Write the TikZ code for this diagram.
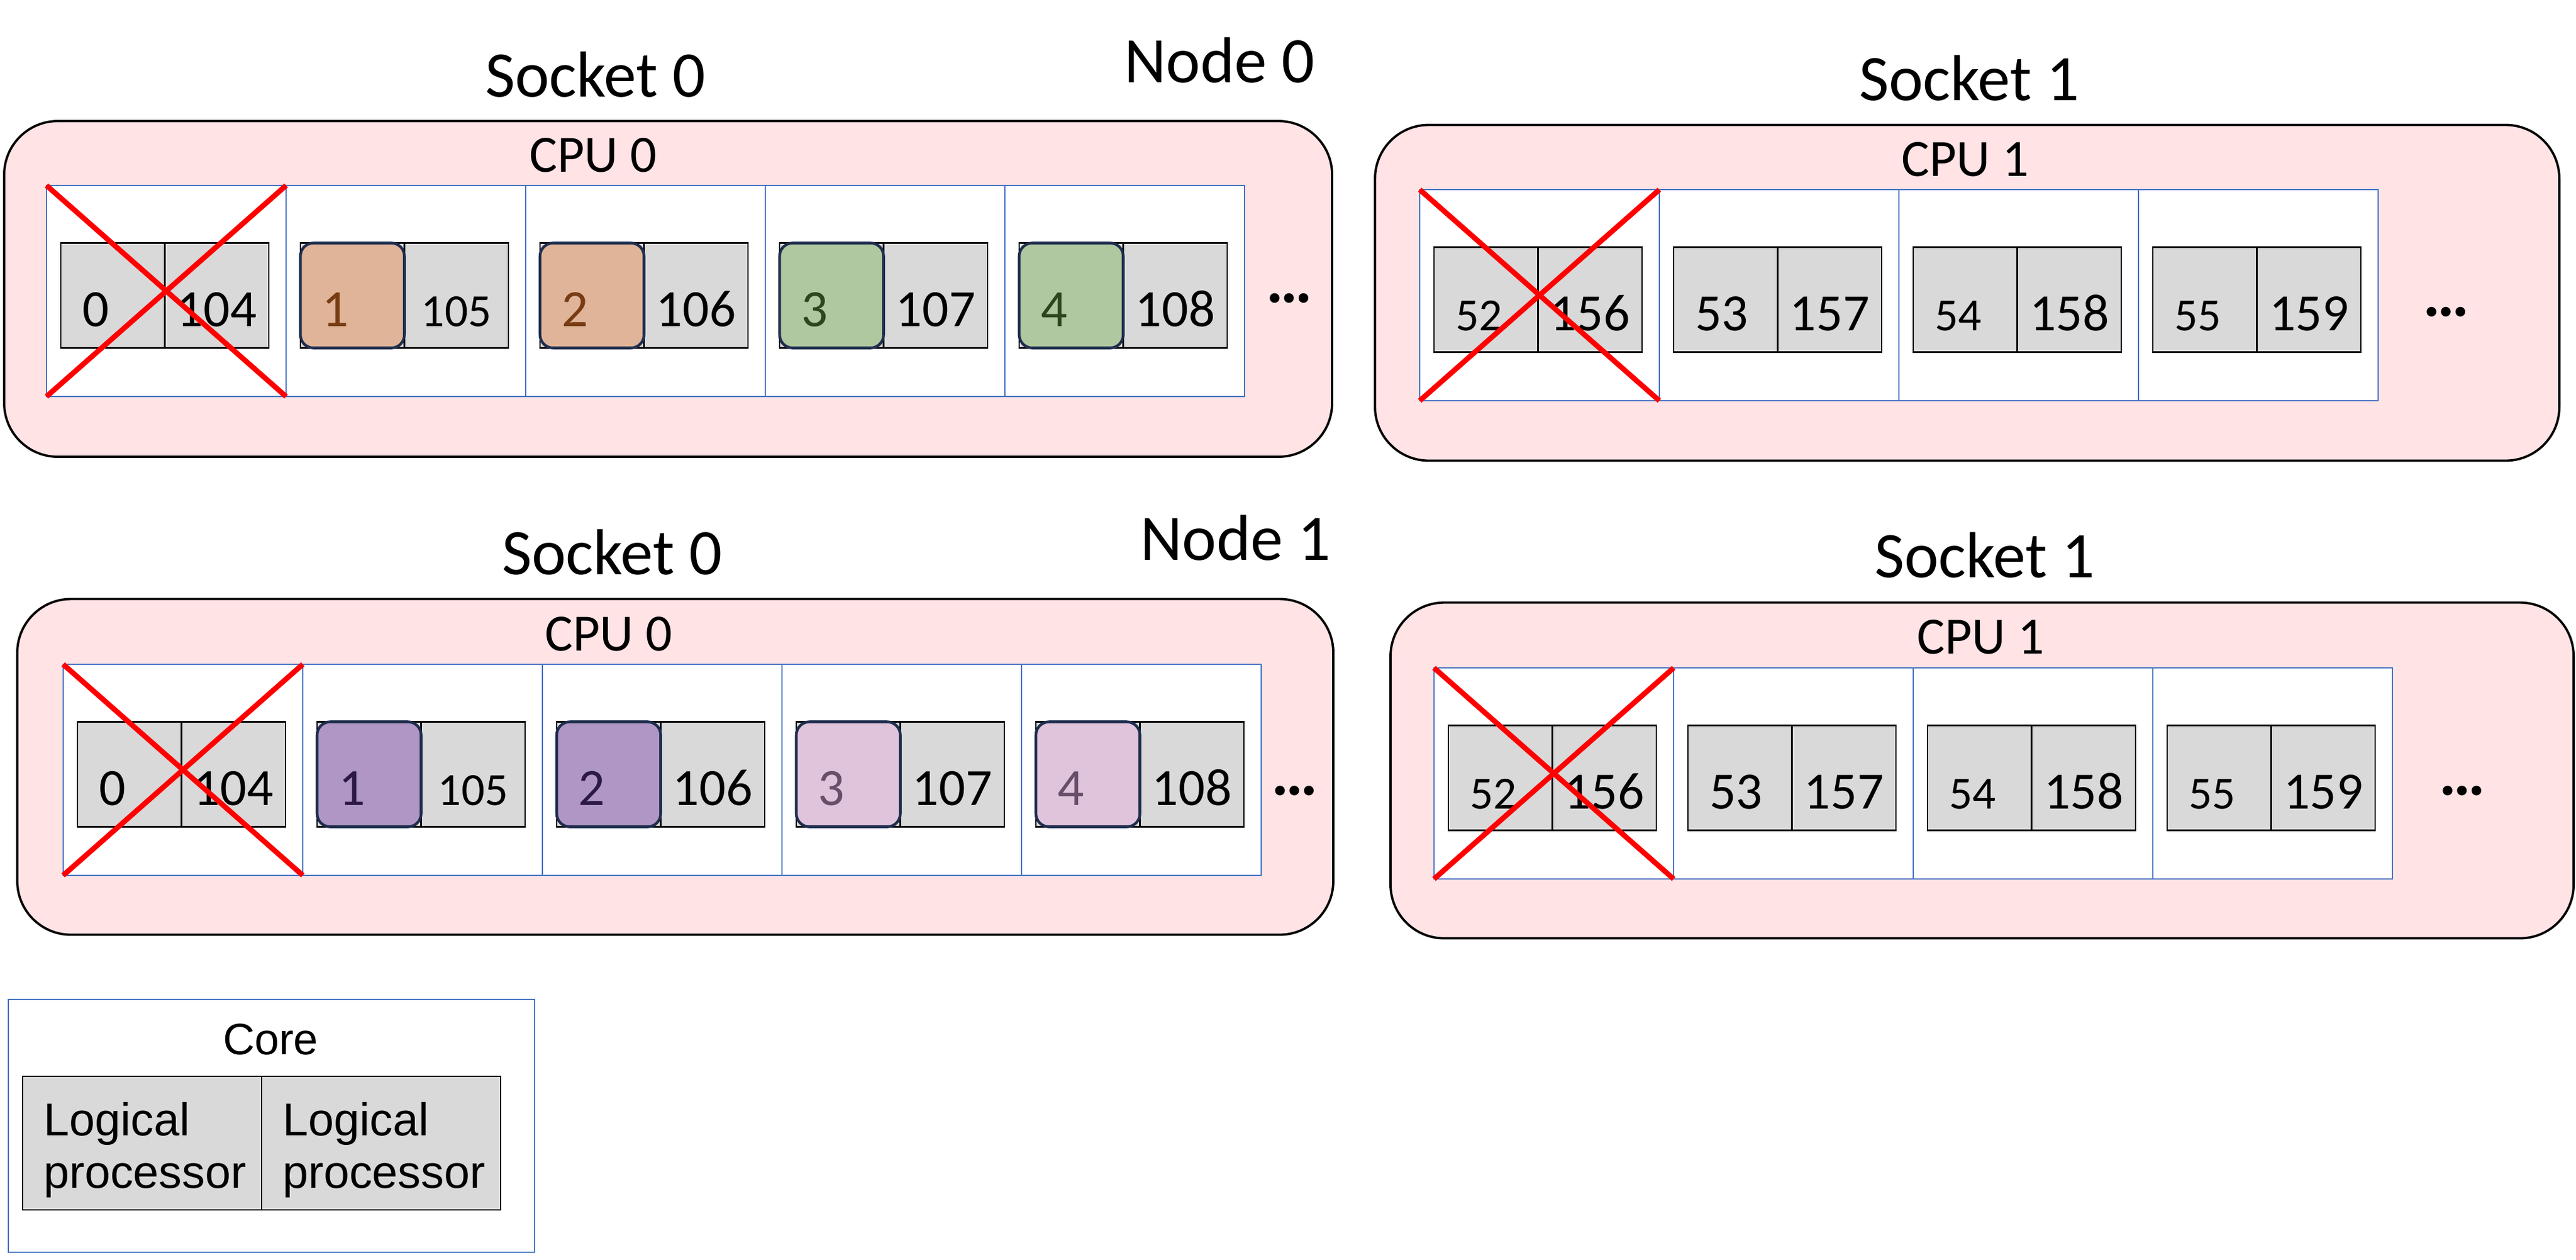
\documentclass[tikz,border=0pt]{standalone}
\usepackage{fontspec}
\setmainfont{Carlito}
\newfontfamily\arialfont{Liberation Sans}
\usetikzlibrary{positioning}
\definecolor{sockpink}{RGB}{255,227,229}
\definecolor{coreblue}{RGB}{68,114,196}
\definecolor{lpgray}{RGB}{217,217,217}
\definecolor{navy}{RGB}{31,46,78}
\definecolor{peach}{RGB}{224,180,152}
\definecolor{peachtext}{RGB}{120,60,20}
\definecolor{sage}{RGB}{175,200,160}
\definecolor{sagetext}{RGB}{45,70,30}
\definecolor{plum}{RGB}{176,150,196}
\definecolor{plumtext}{RGB}{45,25,70}
\definecolor{lilac}{RGB}{224,196,220}
\definecolor{lilactext}{RGB}{105,78,105}

\begin{document}
\begin{tikzpicture}[every node/.append style={inner sep=0pt,outer sep=0pt},
  socket/.style={draw=black,line width=1.1pt,fill=sockpink,rounded corners=0.9cm,minimum height=5.63cm},
  core/.style={draw=coreblue,line width=0.8pt,fill=white,minimum width=4.02cm,minimum height=3.54cm},
  lp/.style={draw=black,line width=0.8pt,fill=lpgray,minimum height=1.76cm,text height=1.04cm,text depth=0pt,font=\fontsize{25}{30}\selectfont},
  lpl/.style={lp,text width=1.025cm,inner xsep=0.36cm,align=left},
  lpr/.style={lp,text width=1.745cm,align=center}]
  \tikzstyle{smallnum} = [font=\fontsize{22}{26}\selectfont]
  \tikzstyle{ht} = [lpl,draw=navy,line width=1.3pt,rounded corners=0.22cm]
  \tikzstyle{head} = [anchor=base,font=\fontsize{31}{36}\selectfont]
  \tikzstyle{cpu} = [anchor=base,font=\fontsize{25}{30}\selectfont]
  \tikzstyle{more} = [anchor=base,font=\fontsize{31}{36}\selectfont\bfseries]
  \tikzstyle{strike} = [draw=red,line width=2.5pt]
  \tikzstyle{lgp} = [draw=black,line width=0.8pt,fill=lpgray,text width=3.3cm,inner xsep=0.355cm,align=left,minimum height=2.24cm,text height=0.79cm,text depth=1.05cm,font=\arialfont\fontsize{22}{25.3}\selectfont]
  \useasboundingbox (0,0) rectangle (43.22,-21.12);

  \node[head] (n0_s0_t) at (9.99,-1.62) {Socket 0};
  \node[head] (n0_t) at (20.46,-1.38) {Node 0};
  \node[head] (n0_s1_t) at (33.04,-1.68) {Socket 1};
  \node[head] (n1_s0_t) at (10.27,-9.63) {Socket 0};
  \node[head] (n1_t) at (20.73,-9.39) {Node 1};
  \node[head] (n1_s1_t) at (33.30,-9.68) {Socket 1};

  \node[socket,minimum width=22.28cm] (n0_s0) at (11.21,-4.845) {};
  \node[cpu] (n0_s0_cpu) at (9.95,-2.88) {CPU 0};
  \node[core] (n0_s0_c1) [right=0.71cm of n0_s0.west,yshift=-0.035cm] {};
  \node[core] (n0_s0_c2) [right=0cm of n0_s0_c1] {};
  \node[core] (n0_s0_c3) [right=0cm of n0_s0_c2] {};
  \node[core] (n0_s0_c4) [right=0cm of n0_s0_c3] {};
  \node[core] (n0_s0_c5) [right=0cm of n0_s0_c4] {};
  \node[lpl] (n0_s0_c1a) [right=0.24cm of n0_s0_c1.west,yshift=-0.075cm] {0};
  \node[lpr] (n0_s0_c1b) [right=0cm of n0_s0_c1a] {104};
  \node[lpl] (n0_s0_c2a) [right=0.24cm of n0_s0_c2.west,yshift=-0.075cm] {};
  \node[lpr,smallnum] (n0_s0_c2b) [right=0cm of n0_s0_c2a] {105};
  \node[ht,fill=peach,text=peachtext] (n0_s0_c2h) at (n0_s0_c2a) {1};
  \node[lpl] (n0_s0_c3a) [right=0.24cm of n0_s0_c3.west,yshift=-0.075cm] {};
  \node[lpr] (n0_s0_c3b) [right=0cm of n0_s0_c3a] {106};
  \node[ht,fill=peach,text=peachtext] (n0_s0_c3h) at (n0_s0_c3a) {2};
  \node[lpl] (n0_s0_c4a) [right=0.24cm of n0_s0_c4.west,yshift=-0.075cm] {};
  \node[lpr] (n0_s0_c4b) [right=0cm of n0_s0_c4a] {107};
  \node[ht,fill=sage,text=sagetext] (n0_s0_c4h) at (n0_s0_c4a) {3};
  \node[lpl] (n0_s0_c5a) [right=0.24cm of n0_s0_c5.west,yshift=-0.075cm] {};
  \node[lpr] (n0_s0_c5b) [right=0cm of n0_s0_c5a] {108};
  \node[ht,fill=sage,text=sagetext] (n0_s0_c5h) at (n0_s0_c5a) {4};
  \node[more] (n0_s0_m) at (21.63,-5.07) {…};
  \draw[strike] (n0_s0_c1.north west) -- (n0_s0_c1.south east);
  \draw[strike] (n0_s0_c1.north east) -- (n0_s0_c1.south west);

  \node[socket,minimum width=19.87cm] (n0_s1) at (33.005,-4.91) {};
  \node[cpu] (n0_s1_cpu) at (32.97,-2.95) {CPU 1};
  \node[core] (n0_s1_c1) [right=0.75cm of n0_s1.west,yshift=-0.04cm] {};
  \node[core] (n0_s1_c2) [right=0cm of n0_s1_c1] {};
  \node[core] (n0_s1_c3) [right=0cm of n0_s1_c2] {};
  \node[core] (n0_s1_c4) [right=0cm of n0_s1_c3] {};
  \node[lpl,smallnum] (n0_s1_c1a) [right=0.24cm of n0_s1_c1.west,yshift=-0.075cm] {52};
  \node[lpr] (n0_s1_c1b) [right=0cm of n0_s1_c1a] {156};
  \node[lpl] (n0_s1_c2a) [right=0.24cm of n0_s1_c2.west,yshift=-0.075cm] {53};
  \node[lpr] (n0_s1_c2b) [right=0cm of n0_s1_c2a] {157};
  \node[lpl,smallnum] (n0_s1_c3a) [right=0.24cm of n0_s1_c3.west,yshift=-0.075cm] {54};
  \node[lpr] (n0_s1_c3b) [right=0cm of n0_s1_c3a] {158};
  \node[lpl,smallnum] (n0_s1_c4a) [right=0.24cm of n0_s1_c4.west,yshift=-0.075cm] {55};
  \node[lpr] (n0_s1_c4b) [right=0cm of n0_s1_c4a] {159};
  \node[more] (n0_s1_m) at (41.04,-5.30) {…};
  \draw[strike] (n0_s1_c1.north west) -- (n0_s1_c1.south east);
  \draw[strike] (n0_s1_c1.north east) -- (n0_s1_c1.south west);

  \node[socket,minimum width=22.08cm] (n1_s0) at (11.33,-12.86) {};
  \node[cpu] (n1_s0_cpu) at (10.21,-10.91) {CPU 0};
  \node[core] (n1_s0_c1) [right=0.77cm of n1_s0.west,yshift=-0.05cm] {};
  \node[core] (n1_s0_c2) [right=0cm of n1_s0_c1] {};
  \node[core] (n1_s0_c3) [right=0cm of n1_s0_c2] {};
  \node[core] (n1_s0_c4) [right=0cm of n1_s0_c3] {};
  \node[core] (n1_s0_c5) [right=0cm of n1_s0_c4] {};
  \node[lpl] (n1_s0_c1a) [right=0.24cm of n1_s0_c1.west,yshift=-0.075cm] {0};
  \node[lpr] (n1_s0_c1b) [right=0cm of n1_s0_c1a] {104};
  \node[lpl] (n1_s0_c2a) [right=0.24cm of n1_s0_c2.west,yshift=-0.075cm] {};
  \node[lpr,smallnum] (n1_s0_c2b) [right=0cm of n1_s0_c2a] {105};
  \node[ht,fill=plum,text=plumtext] (n1_s0_c2h) at (n1_s0_c2a) {1};
  \node[lpl] (n1_s0_c3a) [right=0.24cm of n1_s0_c3.west,yshift=-0.075cm] {};
  \node[lpr] (n1_s0_c3b) [right=0cm of n1_s0_c3a] {106};
  \node[ht,fill=plum,text=plumtext] (n1_s0_c3h) at (n1_s0_c3a) {2};
  \node[lpl] (n1_s0_c4a) [right=0.24cm of n1_s0_c4.west,yshift=-0.075cm] {};
  \node[lpr] (n1_s0_c4b) [right=0cm of n1_s0_c4a] {107};
  \node[ht,fill=lilac,text=lilactext] (n1_s0_c4h) at (n1_s0_c4a) {3};
  \node[lpl] (n1_s0_c5a) [right=0.24cm of n1_s0_c5.west,yshift=-0.075cm] {};
  \node[lpr] (n1_s0_c5b) [right=0cm of n1_s0_c5a] {108};
  \node[ht,fill=lilac,text=lilactext] (n1_s0_c5h) at (n1_s0_c5a) {4};
  \node[more] (n1_s0_m) at (21.72,-13.33) {…};
  \draw[strike] (n1_s0_c1.north west) -- (n1_s0_c1.south east);
  \draw[strike] (n1_s0_c1.north east) -- (n1_s0_c1.south west);

  \node[socket,minimum width=19.85cm] (n1_s1) at (33.255,-12.92) {};
  \node[cpu] (n1_s1_cpu) at (33.23,-10.96) {CPU 1};
  \node[core] (n1_s1_c1) [right=0.73cm of n1_s1.west,yshift=-0.05cm] {};
  \node[core] (n1_s1_c2) [right=0cm of n1_s1_c1] {};
  \node[core] (n1_s1_c3) [right=0cm of n1_s1_c2] {};
  \node[core] (n1_s1_c4) [right=0cm of n1_s1_c3] {};
  \node[lpl,smallnum] (n1_s1_c1a) [right=0.24cm of n1_s1_c1.west,yshift=-0.075cm] {52};
  \node[lpr] (n1_s1_c1b) [right=0cm of n1_s1_c1a] {156};
  \node[lpl] (n1_s1_c2a) [right=0.24cm of n1_s1_c2.west,yshift=-0.075cm] {53};
  \node[lpr] (n1_s1_c2b) [right=0cm of n1_s1_c2a] {157};
  \node[lpl,smallnum] (n1_s1_c3a) [right=0.24cm of n1_s1_c3.west,yshift=-0.075cm] {54};
  \node[lpr] (n1_s1_c3b) [right=0cm of n1_s1_c3a] {158};
  \node[lpl,smallnum] (n1_s1_c4a) [right=0.24cm of n1_s1_c4.west,yshift=-0.075cm] {55};
  \node[lpr] (n1_s1_c4b) [right=0cm of n1_s1_c4a] {159};
  \node[more] (n1_s1_m) at (41.31,-13.33) {…};
  \draw[strike] (n1_s1_c1.north west) -- (n1_s1_c1.south east);
  \draw[strike] (n1_s1_c1.north east) -- (n1_s1_c1.south west);

  \node[core,minimum width=8.83cm,minimum height=4.24cm] (lg) at (4.555,-18.88) {};
  \node[head,font=\arialfont\fontsize{21}{25}\selectfont] (lg_t) at (4.54,-17.68) {Core};
  \node[lgp] (lg_a) at (2.385,-19.17) {Logical\\processor};
  \node[lgp] (lg_b) [right=0cm of lg_a] {Logical\\processor};
\end{tikzpicture}
\end{document}
